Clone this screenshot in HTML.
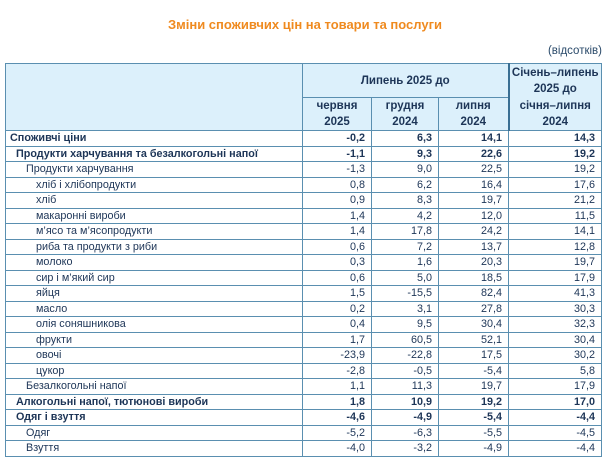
<!DOCTYPE html>
<html><head><meta charset="utf-8"><style>
body{margin:0;width:610px;height:460px;background:#fff;font-family:"Liberation Sans",sans-serif;color:#1d3557;position:relative;overflow:hidden}
.title{position:absolute;top:17px;left:0;width:610px;text-align:center;color:#ef8a1f;font-weight:bold;font-size:13px}
.unit{position:absolute;top:45px;right:8px;font-size:11.5px;color:#2a4a6a}
table{position:absolute;left:5px;top:63px;border-collapse:collapse;font-size:10.8px;table-layout:fixed}
td{border:1px solid #5a8fb0;padding:0 4px;height:14.5px;line-height:14px;white-space:nowrap;overflow:hidden}
td.n{text-align:right;padding-right:6px}
tr.b td{font-weight:bold;border-top:1.5px solid #3a6f93}
thead td{background:#dcf0fb;font-weight:bold;text-align:center;line-height:16px;padding:0;font-size:11.5px}
.l1{padding-left:10px}.l2{padding-left:20px}.l3{padding-left:30px}
</style></head><body>
<div class="title">Зміни споживчих цін на товари та послуги</div>
<div class="unit">(відсотків)</div>
<table>
<colgroup><col style="width:297px"><col style="width:69px"><col style="width:67px"><col style="width:70px"><col style="width:93px"></colgroup>
<thead>
<tr><td rowspan="2" style="height:64px"></td><td colspan="3" style="height:33px">Липень 2025 до</td><td style="border-left:2px solid #3a6f93;border-bottom:none;vertical-align:middle">Січень–липень<br>2025 до</td></tr>
<tr><td style="height:30px">червня<br>2025</td><td>грудня<br>2024</td><td>липня<br>2024</td><td style="border-left:2px solid #3a6f93;border-top:none">січня–липня<br>2024</td></tr>
</thead>
<tbody>
<tr class="b"><td>Споживчі ціни</td><td class="n">-0,2</td><td class="n">6,3</td><td class="n">14,1</td><td class="n">14,3</td></tr>
<tr class="b"><td class="l1">Продукти харчування та безалкогольні напої</td><td class="n">-1,1</td><td class="n">9,3</td><td class="n">22,6</td><td class="n">19,2</td></tr>
<tr><td class="l2">Продукти харчування</td><td class="n">-1,3</td><td class="n">9,0</td><td class="n">22,5</td><td class="n">19,2</td></tr>
<tr><td class="l3">хліб і хлібопродукти</td><td class="n">0,8</td><td class="n">6,2</td><td class="n">16,4</td><td class="n">17,6</td></tr>
<tr><td class="l3">хліб</td><td class="n">0,9</td><td class="n">8,3</td><td class="n">19,7</td><td class="n">21,2</td></tr>
<tr><td class="l3">макаронні вироби</td><td class="n">1,4</td><td class="n">4,2</td><td class="n">12,0</td><td class="n">11,5</td></tr>
<tr><td class="l3">м’ясо та м’ясопродукти</td><td class="n">1,4</td><td class="n">17,8</td><td class="n">24,2</td><td class="n">14,1</td></tr>
<tr><td class="l3">риба та продукти з риби</td><td class="n">0,6</td><td class="n">7,2</td><td class="n">13,7</td><td class="n">12,8</td></tr>
<tr><td class="l3">молоко</td><td class="n">0,3</td><td class="n">1,6</td><td class="n">20,3</td><td class="n">19,7</td></tr>
<tr><td class="l3">сир і м’який сир</td><td class="n">0,6</td><td class="n">5,0</td><td class="n">18,5</td><td class="n">17,9</td></tr>
<tr><td class="l3">яйця</td><td class="n">1,5</td><td class="n">-15,5</td><td class="n">82,4</td><td class="n">41,3</td></tr>
<tr><td class="l3">масло</td><td class="n">0,2</td><td class="n">3,1</td><td class="n">27,8</td><td class="n">30,3</td></tr>
<tr><td class="l3">олія соняшникова</td><td class="n">0,4</td><td class="n">9,5</td><td class="n">30,4</td><td class="n">32,3</td></tr>
<tr><td class="l3">фрукти</td><td class="n">1,7</td><td class="n">60,5</td><td class="n">52,1</td><td class="n">30,4</td></tr>
<tr><td class="l3">овочі</td><td class="n">-23,9</td><td class="n">-22,8</td><td class="n">17,5</td><td class="n">30,2</td></tr>
<tr><td class="l3">цукор</td><td class="n">-2,8</td><td class="n">-0,5</td><td class="n">-5,4</td><td class="n">5,8</td></tr>
<tr><td class="l2">Безалкогольні напої</td><td class="n">1,1</td><td class="n">11,3</td><td class="n">19,7</td><td class="n">17,9</td></tr>
<tr class="b"><td class="l1">Алкогольні напої, тютюнові вироби</td><td class="n">1,8</td><td class="n">10,9</td><td class="n">19,2</td><td class="n">17,0</td></tr>
<tr class="b"><td class="l1">Одяг і взуття</td><td class="n">-4,6</td><td class="n">-4,9</td><td class="n">-5,4</td><td class="n">-4,4</td></tr>
<tr><td class="l2">Одяг</td><td class="n">-5,2</td><td class="n">-6,3</td><td class="n">-5,5</td><td class="n">-4,5</td></tr>
<tr><td class="l2">Взуття</td><td class="n">-4,0</td><td class="n">-3,2</td><td class="n">-4,9</td><td class="n">-4,4</td></tr>
</tbody></table>
</body></html>
